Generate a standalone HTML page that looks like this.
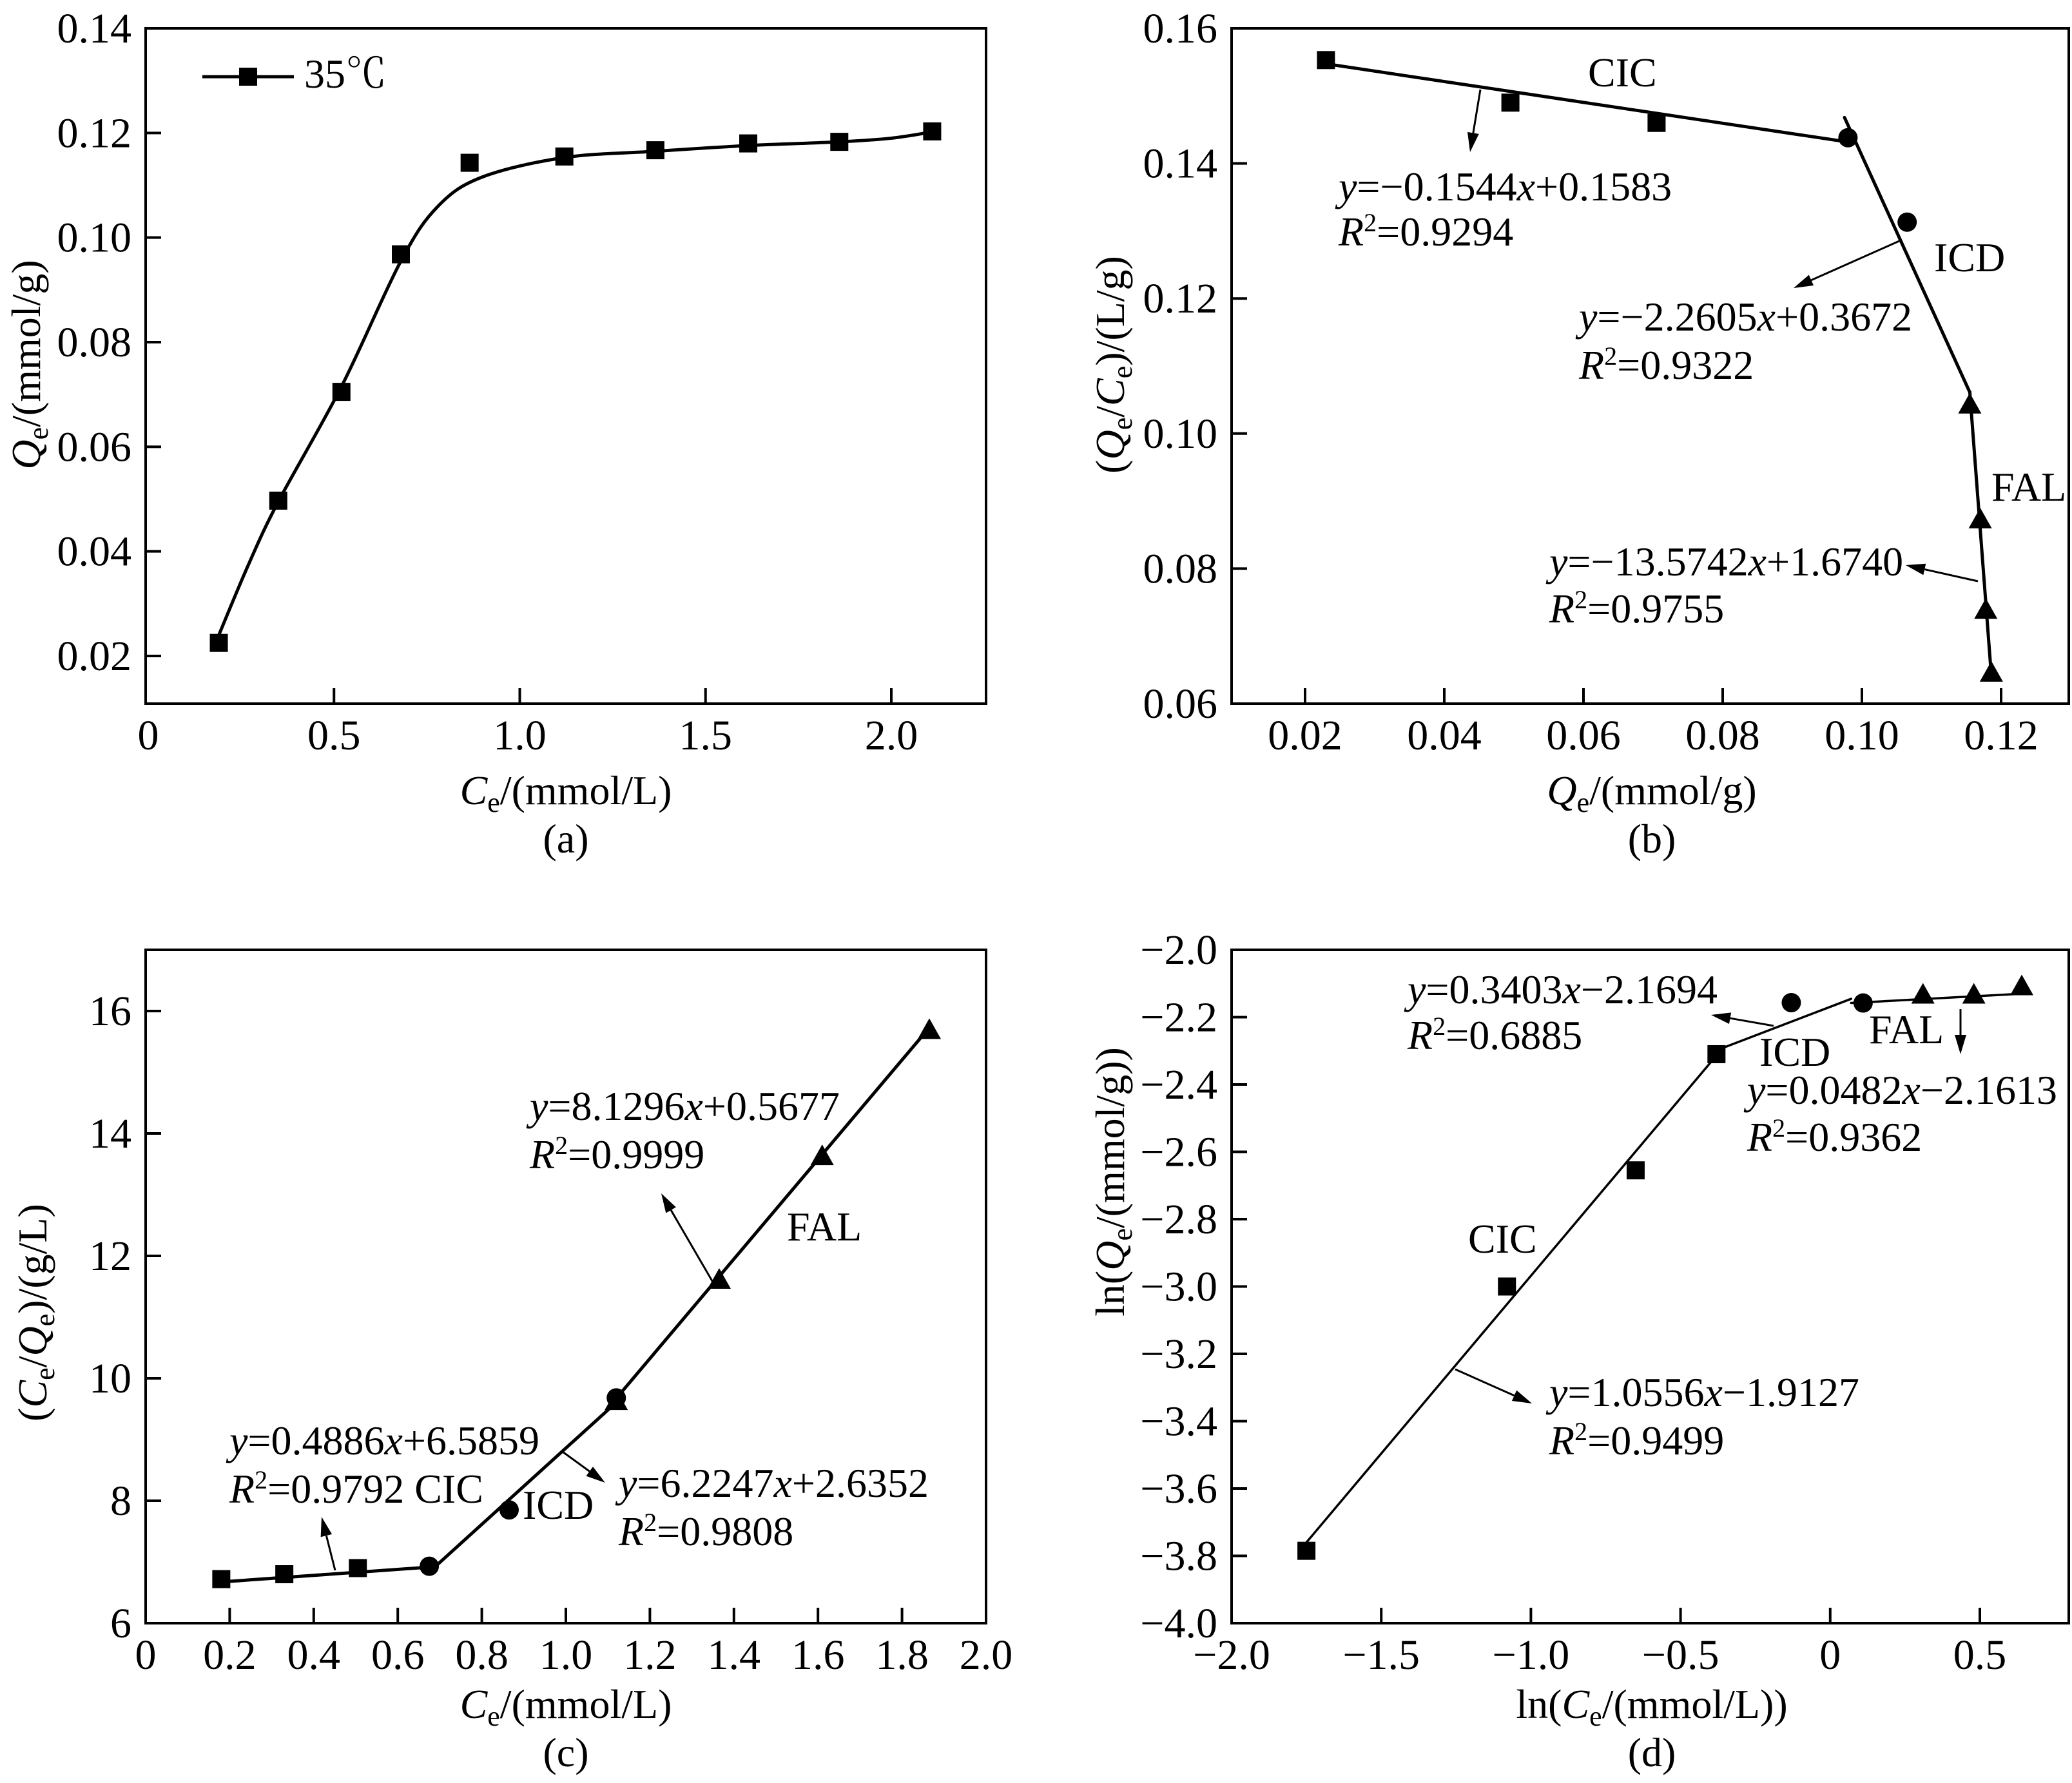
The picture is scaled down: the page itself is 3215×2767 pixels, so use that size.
<!DOCTYPE html>
<html><head><meta charset="utf-8"><style>
html,body{margin:0;padding:0;background:#fff;}
svg{display:block;font-family:"Liberation Serif","Noto Serif CJK SC",serif;}
</style></head><body>
<svg id="fig" width="3215" height="2767" viewBox="0 0 3215 2767" xmlns="http://www.w3.org/2000/svg"></svg>
<script>
// ---- Panel (a) data ----
const aX = [0.19,0.35,0.52,0.68,0.865,1.12,1.365,1.615,1.86,2.11];
const aY = [0.0225,0.0497,0.0705,0.0968,0.1143,0.1155,0.1167,0.1180,0.1183,0.1203];
const aCurveX = [0.19,0.27,0.35,0.52,0.68,0.78,0.90,1.12,1.365,1.615,1.86,2.0,2.11];
const aCurveY = [0.024,0.0375,0.0495,0.0715,0.0955,0.1060,0.1116,0.1153,0.1165,0.1176,0.1183,0.1190,0.1202];
const aXTicks = [0,0.5,1.0,1.5,2.0];
const aXTickLabels = ["0","0.5","1.0","1.5","2.0"];
const aYTicks = [0.02,0.04,0.06,0.08,0.10,0.12,0.14];
const aYTickLabels = ["0.02","0.04","0.06","0.08","0.10","0.12","0.14"];
// ---- Panel (b) data ----
const bSqX = [0.023,0.0495,0.0705];
const bSqY = [0.1553,0.1490,0.1460];
const bCiX = [0.098,0.1065];
const bCiY = [0.1438,0.1313];
const bTrX = [0.1155,0.1170,0.1178,0.1186];
const bTrY = [0.1042,0.0872,0.0738,0.0645];
const bSlopes = [-0.1544,-2.2605,-13.5742];
const bIntercepts = [0.1583,0.3672,1.6740];
const bLineStart = [0.023,0.0975,0.1155];
const bLineEnd = [0.097,0.1155,0.1186];
const bXTicks = [0.02,0.04,0.06,0.08,0.10,0.12];
const bXTickLabels = ["0.02","0.04","0.06","0.08","0.10","0.12"];
const bYTicks = [0.06,0.08,0.10,0.12,0.14,0.16];
const bYTickLabels = ["0.06","0.08","0.10","0.12","0.14","0.16"];
// ---- Panel (c) data ----
const cSqX = [0.18,0.33,0.505];
const cSqY = [6.72,6.80,6.90];
const cCiX = [0.675,0.865,1.12];
const cCiY = [6.93,7.85,9.68];
const cTrX = [1.12,1.365,1.61,1.865];
const cTrY = [9.62,11.60,13.62,15.68];
const cSlopes = [0.4886,6.2247,8.1296];
const cIntercepts = [6.5859,2.6352,0.5677];
const cLineStart = [0.18,0.69,1.12];
const cLineEnd = [0.69,1.12,1.865];
const cXTicks = [0,0.2,0.4,0.6,0.8,1.0,1.2,1.4,1.6,1.8,2.0];
const cXTickLabels = ["0","0.2","0.4","0.6","0.8","1.0","1.2","1.4","1.6","1.8","2.0"];
const cYTicks = [6,8,10,12,14,16];
const cYTickLabels = ["6","8","10","12","14","16"];
// ---- Panel (d) data ----
const dSqX = [-1.75,-1.08,-0.65,-0.38];
const dSqY = [-3.785,-3.0,-2.655,-2.31];
const dCiX = [-0.13,0.11];
const dCiY = [-2.157,-2.158];
const dTrX = [0.31,0.48,0.64];
const dTrY = [-2.135,-2.135,-2.11];
const dSlopes = [1.0556,0.3403,0.0482];
const dIntercepts = [-1.9127,-2.1694,-2.1613];
const dLineStart = [-1.75,-0.38,0.07];
const dLineEnd = [-0.38,0.07,0.64];
const dXTicks = [-2.0,-1.5,-1.0,-0.5,0,0.5];
const dXTickLabels = ["\u22122.0","\u22121.5","\u22121.0","\u22120.5","0","0.5"];
const dYTicks = [-4.0,-3.8,-3.6,-3.4,-3.2,-3.0,-2.8,-2.6,-2.4,-2.2,-2.0];
const dYTickLabels = ["\u22124.0","\u22123.8","\u22123.6","\u22123.4","\u22123.2","\u22123.0","\u22122.8","\u22122.6","\u22122.4","\u22122.2","\u22122.0"];

const NS = "http://www.w3.org/2000/svg";
const svg = document.getElementById("fig");
function mk(tag, attrs, parent){
  const e = document.createElementNS(NS, tag);
  for (const k in attrs) e.setAttribute(k, attrs[k]);
  (parent||svg).appendChild(e);
  return e;
}
function scale(d0,d1,p0,p1){ return v => p0 + (v-d0)/(d1-d0)*(p1-p0); }

function axes(g, L, R, T, B, sx, sy, xt, xtl, yt, ytl, name){
  const frame = mk("rect",{x:L,y:T,width:R-L,height:B-T,fill:"none",stroke:"#000","stroke-width":4},g);
  
  
  xt.forEach((v,i)=>{
    const x = sx(v);
    if (x > L+6) {
      const t = mk("line",{x1:x,y1:B,x2:x,y2:B-24,stroke:"#000","stroke-width":4},g);
      
      
    }
    const lb = mk("text",{x:x,y:B+71,"font-size":66,"text-anchor":"middle"},g);
    lb.textContent = xtl[i];
    
    
  });
  yt.forEach((v,i)=>{
    const y = sy(v);
    const t = mk("line",{x1:L,y1:y,x2:L+24,y2:y,stroke:"#000","stroke-width":4},g);
    
    
    const lb = mk("text",{x:L-22,y:y+22,"font-size":66,"text-anchor":"end"},g);
    lb.textContent = ytl[i];
    
    
  });
}
function square(g,x,y,name){
  const r = mk("rect",{x:x-14,y:y-14,width:28,height:28,fill:"#000"},g);
  
  
}
function circle(g,x,y,name){
  const c = mk("circle",{cx:x,cy:y,r:15,fill:"#000"},g);
  
  
}
function tri(g,x,y,name){
  const p = mk("polygon",{points:`${x},${y-19} ${x-18},${y+13} ${x+18},${y+13}`,fill:"#000"},g);
  
  
}
function fitLines(g,sx,sy,m,b,s,e,w,name){
  m.forEach((k,i)=>{
    const l = mk("line",{x1:sx(s[i]),y1:sy(k*s[i]+b[i]),x2:sx(e[i]),y2:sy(k*e[i]+b[i]),stroke:"#000","stroke-width":w,"stroke-linecap":"round"},g);
    
    
  });
}
function txt(g,x,y,html,name,anchor,rot){
  const t = mk("text",{x:x,y:y,"font-size":64,"text-anchor":anchor||"start"},g);
  if (rot) t.setAttribute("transform",`rotate(-90 ${x} ${y})`);
  t.innerHTML = html;
  
  
  return t;
}
function arrow(g,x1,y1,x2,y2,name){
  const ang = Math.atan2(y2-y1,x2-x1), L=30, W=9;
  const bx = x2 - L*Math.cos(ang), by = y2 - L*Math.sin(ang);
  const px = -Math.sin(ang)*W, py = Math.cos(ang)*W;
  const grp = mk("g",{},g);
  
  
  mk("line",{x1:x1,y1:y1,x2:bx,y2:by,stroke:"#000","stroke-width":3},grp);
  mk("polygon",{points:`${x2},${y2} ${bx+px},${by+py} ${bx-px},${by-py}`,fill:"#000"},grp);
}
const sub = (s)=>`<tspan font-size="44" dy="12">${s}</tspan><tspan dy="-12">`;
const eqn = (a)=>`<tspan font-style="italic">y</tspan>=${a}`;

// ===== Panel (a) =====
(function(){
  const g = mk("g",{});  
  const L=226,R=1530,T=44,B=1092;
  const sx = scale(0,2.0,230,1383), sy = scale(0.02,0.14,1018,44);
  axes(g,L,R,T,B,sx,sy,aXTicks,aXTickLabels,aYTicks,aYTickLabels,"a");
  const P = aCurveX.map((x,i)=>[sx(x),sy(aCurveY[i])]);
  let d = `M${P[0][0]},${P[0][1]}`;
  for (let i=0;i<P.length-1;i++){
    const p0=P[Math.max(i-1,0)],p1=P[i],p2=P[i+1],p3=P[Math.min(i+2,P.length-1)];
    d += ` C${p1[0]+(p2[0]-p0[0])/6},${p1[1]+(p2[1]-p0[1])/6} ${p2[0]-(p3[0]-p1[0])/6},${p2[1]-(p3[1]-p1[1])/6} ${p2[0]},${p2[1]}`;
  }
  const c = mk("path",{d:d,fill:"none",stroke:"#000","stroke-width":5},g);
   
  aX.forEach((x,i)=>square(g,sx(x),sy(aY[i]),"a-point"));
  const lg = mk("line",{x1:314,y1:119,x2:456,y2:119,stroke:"#000","stroke-width":5},g);
   
  square(g,385,119,"legend-marker");
  txt(g,472,136,"35<tspan font-family=\"Noto Serif CJK SC\">\u2103</tspan>","legend-label");
  txt(g,878,1248,`<tspan font-style="italic">C</tspan>${sub("e")}/(mmol/L)</tspan>`,"a-x-axis-title","middle");
  txt(g,878,1323,"(a)","a-panel-label","middle");
  txt(g,62,566,`<tspan font-style="italic">Q</tspan>${sub("e")}/(mmol/g)</tspan>`,"a-y-axis-title","middle",true);
})();

// ===== Panel (b) =====
(function(){
  const g = mk("g",{});  
  const L=1911,R=3210,T=44,B=1092;
  const sx = scale(0.02,0.12,2025,3105), sy = scale(0.06,0.16,1092,44);
  axes(g,L,R,T,B,sx,sy,bXTicks,bXTickLabels,bYTicks,bYTickLabels,"b");
  fitLines(g,sx,sy,bSlopes,bIntercepts,bLineStart,bLineEnd,5,"b");
  bSqX.forEach((x,i)=>square(g,sx(x),sy(bSqY[i]),"b-cic-point"));
  bCiX.forEach((x,i)=>circle(g,sx(x),sy(bCiY[i]),"b-icd-point"));
  bTrX.forEach((x,i)=>tri(g,sx(x),sy(bTrY[i]),"b-fal-point"));
  txt(g,2464,134,"CIC","b-cic-label");
  arrow(g,2297,139,2281,236,"b-cic-arrow");
  txt(g,2077,311,eqn("\u22120.1544<tspan font-style=\"italic\">x</tspan>+0.1583"),"b-cic-equation");
  txt(g,2077,381,`<tspan font-style="italic">R</tspan><tspan font-size="40" dy="-22">2</tspan><tspan dy="22">=0.9294</tspan>`,"b-cic-r2");
  txt(g,3001,421,"ICD","b-icd-label");
  arrow(g,2947,374,2783,447,"b-icd-arrow");
  txt(g,2450,513,eqn("\u22122.2605<tspan font-style=\"italic\">x</tspan>+0.3672"),"b-icd-equation");
  txt(g,2450,588,`<tspan font-style="italic">R</tspan><tspan font-size="40" dy="-22">2</tspan><tspan dy="22">=0.9322</tspan>`,"b-icd-r2");
  txt(g,3090,777,"FAL","b-fal-label");
  arrow(g,3069,902,2957,877,"b-fal-arrow");
  txt(g,2404,893,eqn("\u221213.5742<tspan font-style=\"italic\">x</tspan>+1.6740"),"b-fal-equation");
  txt(g,2404,966,`<tspan font-style="italic">R</tspan><tspan font-size="40" dy="-22">2</tspan><tspan dy="22">=0.9755</tspan>`,"b-fal-r2");
  txt(g,2563,1248,`<tspan font-style="italic">Q</tspan>${sub("e")}/(mmol/g)</tspan>`,"b-x-axis-title","middle");
  txt(g,2563,1323,"(b)","b-panel-label","middle");
  txt(g,1744,566,`(<tspan font-style="italic">Q</tspan>${sub("e")}/<tspan font-style="italic">C</tspan>${sub("e")})/(L/g)</tspan></tspan>`,"b-y-axis-title","middle",true);
})();

// ===== Panel (c) =====
(function(){
  const g = mk("g",{});  
  const L=226,R=1530,T=1474,B=2519;
  const sx = scale(0,2.0,226,1530), sy = scale(6,17,2519,1474);
  axes(g,L,R,T,B,sx,sy,cXTicks,cXTickLabels,cYTicks,cYTickLabels,"c");
  fitLines(g,sx,sy,cSlopes,cIntercepts,cLineStart,cLineEnd,5,"c");
  cSqX.forEach((x,i)=>square(g,sx(x),sy(cSqY[i]),"c-cic-point"));
  cTrX.forEach((x,i)=>tri(g,sx(x),sy(cTrY[i]),"c-fal-point"));
  cCiX.forEach((x,i)=>circle(g,sx(x),sy(cCiY[i]),"c-icd-point"));
  txt(g,822,1738,eqn("8.1296<tspan font-style=\"italic\">x</tspan>+0.5677"),"c-fal-equation");
  txt(g,822,1813,`<tspan font-style="italic">R</tspan><tspan font-size="40" dy="-22">2</tspan><tspan dy="22">=0.9999</tspan>`,"c-fal-r2");
  arrow(g,1108,1993,1026,1852,"c-fal-arrow");
  txt(g,1221,1925,"FAL","c-fal-label");
  txt(g,356,2257,eqn("0.4886<tspan font-style=\"italic\">x</tspan>+6.5859"),"c-cic-equation");
  txt(g,356,2332,`<tspan font-style="italic">R</tspan><tspan font-size="40" dy="-22">2</tspan><tspan dy="22">=0.9792 CIC</tspan>`,"c-cic-r2");
  arrow(g,520,2437,499,2354,"c-cic-arrow");
  txt(g,811,2357,"ICD","c-icd-label");
  arrow(g,873,2253,939,2301,"c-icd-arrow");
  txt(g,960,2323,eqn("6.2247<tspan font-style=\"italic\">x</tspan>+2.6352"),"c-icd-equation");
  txt(g,960,2398,`<tspan font-style="italic">R</tspan><tspan font-size="40" dy="-22">2</tspan><tspan dy="22">=0.9808</tspan>`,"c-icd-r2");
  txt(g,878,2666,`<tspan font-style="italic">C</tspan>${sub("e")}/(mmol/L)</tspan>`,"c-x-axis-title","middle");
  txt(g,878,2741,"(c)","c-panel-label","middle");
  txt(g,72,2037,`(<tspan font-style="italic">C</tspan>${sub("e")}/<tspan font-style="italic">Q</tspan>${sub("e")})/(g/L)</tspan></tspan>`,"c-y-axis-title","middle",true);
})();

// ===== Panel (d) =====
(function(){
  const g = mk("g",{});  
  const L=1911,R=3210,T=1474,B=2519;
  const sx = scale(-2.0,0.5,1911,3072), sy = scale(-4.0,-2.0,2519,1474);
  axes(g,L,R,T,B,sx,sy,dXTicks,dXTickLabels,dYTicks,dYTickLabels,"d");
  fitLines(g,sx,sy,dSlopes,dIntercepts,dLineStart,dLineEnd,3.5,"d");
  dSqX.forEach((x,i)=>square(g,sx(x),sy(dSqY[i]),"d-cic-point"));
  dCiX.forEach((x,i)=>circle(g,sx(x),sy(dCiY[i]),"d-icd-point"));
  dTrX.forEach((x,i)=>tri(g,sx(x),sy(dTrY[i]),"d-fal-point"));
  txt(g,2184,1557,eqn("0.3403<tspan font-style=\"italic\">x</tspan>\u22122.1694"),"d-icd-equation");
  txt(g,2184,1628,`<tspan font-style="italic">R</tspan><tspan font-size="40" dy="-22">2</tspan><tspan dy="22">=0.6885</tspan>`,"d-icd-r2");
  arrow(g,2752,1592,2655,1575,"d-icd-arrow");
  txt(g,2730,1654,"ICD","d-icd-label");
  txt(g,2900,1619,"FAL","d-fal-label");
  arrow(g,3042,1566,3042,1636,"d-fal-arrow");
  txt(g,2711,1713,eqn("0.0482<tspan font-style=\"italic\">x</tspan>\u22122.1613"),"d-fal-equation");
  txt(g,2711,1786,`<tspan font-style="italic">R</tspan><tspan font-size="40" dy="-22">2</tspan><tspan dy="22">=0.9362</tspan>`,"d-fal-r2");
  txt(g,2278,1944,"CIC","d-cic-label");
  arrow(g,2258,2125,2377,2178,"d-cic-arrow");
  txt(g,2404,2182,eqn("1.0556<tspan font-style=\"italic\">x</tspan>\u22121.9127"),"d-cic-equation");
  txt(g,2404,2257,`<tspan font-style="italic">R</tspan><tspan font-size="40" dy="-22">2</tspan><tspan dy="22">=0.9499</tspan>`,"d-cic-r2");
  txt(g,2563,2666,`ln(<tspan font-style="italic">C</tspan>${sub("e")}/(mmol/L))</tspan>`,"d-x-axis-title","middle");
  txt(g,2563,2741,"(d)","d-panel-label","middle");
  txt(g,1744,1834,`ln(<tspan font-style="italic">Q</tspan>${sub("e")}/(mmol/g))</tspan>`,"d-y-axis-title","middle",true);
})();
</script>
</body></html>
